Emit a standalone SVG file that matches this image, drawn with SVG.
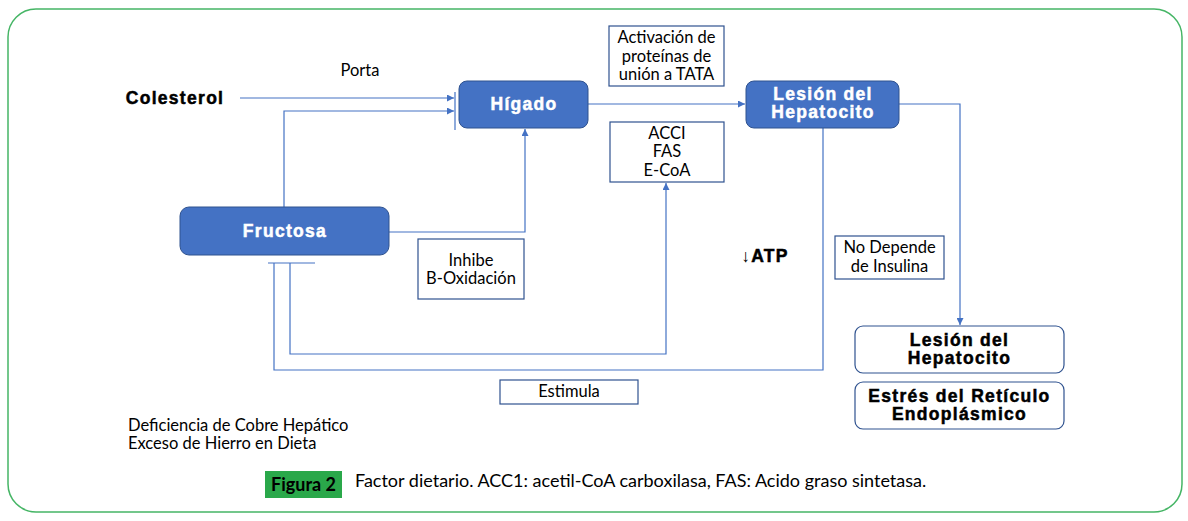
<svg xmlns="http://www.w3.org/2000/svg" width="1188" height="521" viewBox="0 0 1188 521">
<style>
.frame{fill:#fff;stroke:#45b565;stroke-width:1.5}
.blue{fill:#4472C4;stroke:#2F528F;stroke-width:1}
.wbox{fill:#fff;stroke:#2F528F;stroke-width:1.2}
.lbox{fill:#fff;stroke:#2F528F;stroke-width:1.2}
.bw{font-family:"Liberation Sans",Arial,sans-serif;font-weight:bold;font-size:17.5px;letter-spacing:1.3px;fill:#fff;stroke:#fff;stroke-width:0.5;text-anchor:middle}
.bk{font-family:"Liberation Sans",Arial,sans-serif;font-weight:bold;font-size:17.5px;letter-spacing:1.3px;fill:#000;stroke:#000;stroke-width:0.5;text-anchor:middle}
.t{font-family:Lato,"Open Sans",sans-serif;font-size:16.5px;fill:#000;text-anchor:middle}
.tl{font-family:Lato,"Open Sans",sans-serif;font-size:16.5px;fill:#000}
.c{fill:none;stroke:#4472C4;stroke-width:1.2}
</style>
<defs>
<marker id="ah" viewBox="0 0 10 10" refX="10" refY="5" markerWidth="7" markerHeight="7" markerUnits="userSpaceOnUse" orient="auto">
<path d="M0,0 L10,5 L0,10 z" fill="#4472C4"/>
</marker>
</defs>
<rect class="frame" x="8" y="9" width="1174" height="503" rx="28"/>

<g id="connectors">
<path class="c" d="M240,98 H454" marker-end="url(#ah)"/>
<path class="c" d="M284,207 V111 H454" marker-end="url(#ah)"/>
<path class="c" d="M455,92 V130"/>
<path class="c" d="M389,232 H525 V129" marker-end="url(#ah)"/>
<path class="c" d="M588,104 H745" marker-end="url(#ah)"/>
<path class="c" d="M899,104 H960 V325" marker-end="url(#ah)"/>
<path class="c" d="M823,128 V370 H274 V263"/>
<path class="c" d="M268,263 H315"/>
<path class="c" d="M290,263 V354 H666 V183" marker-end="url(#ah)"/>
</g>

<g id="colesterol"><text class="bk" x="175" y="104">Colesterol</text></g>
<g id="porta"><text class="t" x="360" y="76">Porta</text></g>

<g id="higado">
<rect class="blue" x="459" y="81" width="129" height="47" rx="8"/>
<text class="bw" x="524" y="110">Hígado</text>
</g>

<g id="lesion1">
<rect class="blue" x="746" y="81" width="153" height="47" rx="8"/>
<text class="bw" x="823" y="100">Lesión del</text>
<text class="bw" x="823" y="118">Hepatocito</text>
</g>

<g id="fructosa">
<rect class="blue" x="180" y="207" width="209" height="48" rx="9"/>
<text class="bw" x="285" y="237">Fructosa</text>
</g>

<g id="activacion">
<rect class="wbox" x="609" y="26" width="115" height="60"/>
<text class="t" x="666.500" y="43">Activación de</text>
<text class="t" x="666.500" y="62">proteínas de</text>
<text class="t" x="666.500" y="80">unión a TATA</text>
</g>

<g id="acci">
<rect class="wbox" x="610" y="122" width="114" height="60"/>
<text class="t" x="667" y="139">ACCI</text>
<text class="t" x="667" y="157">FAS</text>
<text class="t" x="667" y="176">E-CoA</text>
</g>

<g id="inhibe">
<rect class="wbox" x="418" y="239" width="106" height="60"/>
<text class="t" x="471" y="266">Inhibe</text>
<text class="t" x="471" y="284">B-Oxidación</text>
</g>

<g id="atp"><text class="bk" x="765" y="262"><tspan style="font-weight:normal;stroke-width:0">↓</tspan>ATP</text></g>

<g id="nodepende">
<rect class="wbox" x="835" y="236" width="109" height="43"/>
<text class="t" x="889.500" y="253">No Depende</text>
<text class="t" x="889.500" y="272">de Insulina</text>
</g>

<g id="lesion2">
<rect class="lbox" x="855" y="326" width="209" height="47" rx="8"/>
<text class="bk" x="959.500" y="346">Lesión del</text>
<text class="bk" x="959.500" y="364">Hepatocito</text>
</g>

<g id="estres">
<rect class="lbox" x="855" y="382" width="209" height="47" rx="8"/>
<text class="bk" x="959.500" y="402">Estrés del Retículo</text>
<text class="bk" x="959.500" y="420">Endoplásmico</text>
</g>

<g id="estimula">
<rect class="wbox" x="500" y="380" width="138" height="24"/>
<text class="t" x="569" y="397">Estimula</text>
</g>

<g id="deficiencia">
<text class="tl" x="128" y="431">Deficiencia de Cobre Hepático</text>
<text class="tl" x="128" y="449">Exceso de Hierro en Dieta</text>
</g>

<g id="caption">
<rect x="265" y="471" width="77" height="27" fill="#2aa84a"/>
<text x="303.500" y="491" style="font-family:Lato,'Open Sans',sans-serif;font-size:18px;font-weight:bold;fill:#000;text-anchor:middle">Figura 2</text>
<text x="355" y="487" style="font-family:Lato,'Open Sans',sans-serif;font-size:18px;fill:#000">Factor dietario. ACC1: acetil-CoA carboxilasa, FAS: Acido graso sintetasa.</text>
</g>
</svg>
